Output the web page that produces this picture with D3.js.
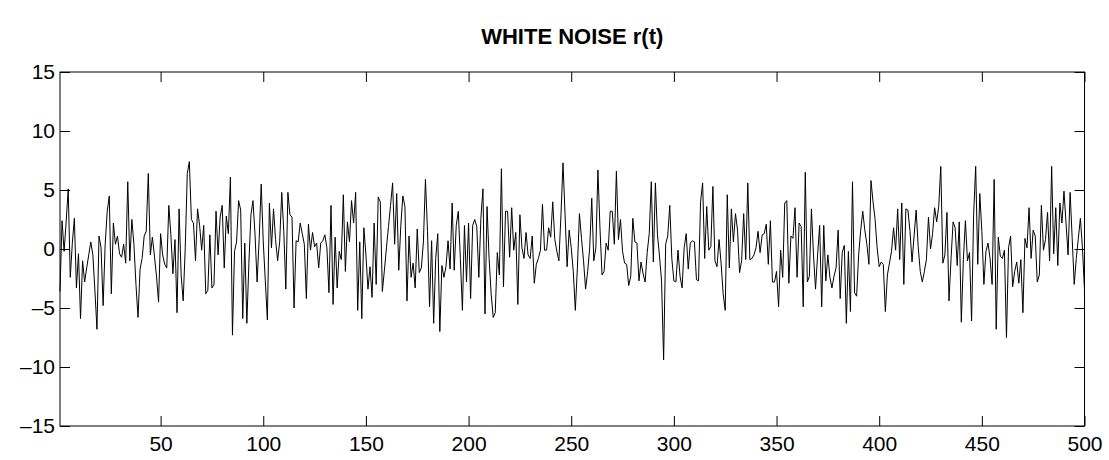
<!DOCTYPE html>
<html>
<head>
<meta charset="utf-8">
<script src="https://cdn.jsdelivr.net/npm/d3@7"></script>
<style>
  body { margin: 0; background: #fff; }
  svg { display: block; font-family: "Liberation Sans", Arial, Helvetica, sans-serif; }
</style>
</head>
<body>
<svg id="chart" width="1109" height="460"></svg>
<script>
// chart data (one value per sample, t = 1..500)
const chartTitle = "WHITE NOISE r(t)";
const xTicks = [50, 100, 150, 200, 250, 300, 350, 400, 450, 500];
const yTicks = [-15, -10, -5, 0, 5, 10, 15];
const noise = [
  -3.6, 2.4, -0.2, 2.3, 5.1, -2.4, 0.5,
  2.6, -3.3, -0.4, -5.9, -1.0, -2.8, -1.6, -0.5, 0.6, -0.5, -3.5, -6.8, 1.1, 0.1, -4.8, 0.4, 3.2, 4.5, -3.8, 2.2, 0.4, 1.1, -0.4, -0.7,
  0.4, -1.2, 5.7, -1.0, 2.5, 0.4, -3.0, -5.8, -1.7, -0.8, 1.1, 1.5, 6.4, -0.5, 1.0, -0.6, -2.3, -4.5, 1.3, -0.5, -1.3, -1.6, 3.7, 1.2,
  -2.1, 0.8, -5.4, 3.4, -2.2, -4.4, 0.1, 6.4, 7.4, 2.5, 2.2, -1.0, 3.4, 2.0, -0.1, 2.0, -3.8, -3.5, 1.2, -3.3, -3.0, 3.2, -0.5, 2.7, 3.7,
  -1.6, 2.8, 1.3, 6.1, -7.3, -0.2, 0.6, 4.1, 3.3, -5.9, 0.5, -6.3, -1.2, 2.9, 4.1, 1.2, -2.8, 0.8, 5.5, 0.6, -2.7, -6.0, 3.9, 0.1, 3.4,
  0.8, -1.0, 0.6, 4.8, 1.5, -3.4, 4.8, 2.9, 2.7, -5.0, 0.7, 0.6, 2.2, 1.3, 0.4, -4.2, 2.1, -0.1, 1.4, 0.2, 0.5, -1.6, 0.5, 0.7, 1.2,
  0.1, -3.7, 3.7, -4.7, 1.0, -3.3, -0.2, -0.9, 4.6, -1.9, 2.3, 0.6, 4.1, 2.2, 4.8, -5.2, 0.6, -5.9, 1.8, -0.5, -3.4, -1.5, -4.1, 2.2,
  -3.0, 4.4, 4.0, -3.6, -1.8, 0.1, 1.9, 3.7, 5.6, 0.4, 4.7, -1.8, 2.0, 4.5, 3.6, -4.4, 1.1, -2.4, -1.2, -3.3, 1.7, -2.0, -1.6, 0.6, 5.9,
  1.5, -4.9, 0.7, -6.3, -0.8, 1.3, -7.0, -1.4, -2.4, -1.5, 0.7, -1.7, 3.9, -1.8, 2.0, 3.2, -0.8, -5.2, 2.0, -2.8, 2.2, -4.2, 2.0, 2.5,
  1.9, -2.4, 2.6, 5.1, -5.5, 3.6, -0.8, -3.8, -5.8, -5.4, -0.3, -2.2, 6.8, -3.2, 3.2, 3.2, -0.7, 3.5, -0.1, 1.4, -4.7, 2.9, 0.1, -0.8, 1.4,
  -0.5, -0.8, 1.1, -2.9, -1.3, -0.8, -0.1, 3.8, -0.1, -0.1, 1.8, 1.0, 4.0, 0.8, -0.2, -1.0, 2.9, 7.3, 2.9, -1.5, 1.6, 0.1, -1.9, -5.2,
  -1.6, 3.0, 0.9, -1.0, -3.4, -1.9, 0.1, 4.3, -1.0, 0.1, 6.7, 1.8, -2.2, -1.9, 0.5, -0.1, 3.2, 3.2, 0.4, 6.6, 0.8, 2.5, -0.2, -1.2,
  -1.3, -3.1, -2.3, 2.6, 0.6, 0.5, -2.7, -1.1, -2.1, -2.8, -0.3, 1.3, 5.7, -1.1, 5.6, 1.2, -0.6, -2.7, -9.4, 0.4, 1.1, 3.7, -0.8, -2.7,
  -2.8, -0.1, -2.3, -3.3, 0.1, 1.3, -1.7, 0.5, 0.7, 0.6, -2.6, -2.7, 4.0, 5.6, -0.8, 3.6, -0.1, 0.2, 5.3, -1.0, -1.5, 0.8, -1.2, -3.8, -5.2,
  4.6, -1.6, 3.4, 0.6, 3.0, 1.6, -2.0, -1.0, 3.0, -0.9, 5.6, -0.9, -0.8, -0.5, 0.1, 1.5, -0.3, 1.2, 1.3, 2.1, -1.3, 2.4, -2.8, -2.8, -1.9,
  -4.9, -0.1, -2.4, 3.9, 4.1, -2.9, 1.1, 0.9, 3.5, -2.4, 2.2, 1.9, -4.9, 6.5, -2.8, -2.3, 3.4, -0.5, -3.4, -0.5, 2.0, -4.9, 2.0, -2.7, -0.5,
  -2.4, -3.3, -2.3, -1.6, 1.6, -4.2, -0.3, 0.3, -6.3, -0.2, -5.3, 5.7, -3.7, -4.0, -0.5, 1.6, 3.2, 1.6, 0.4, -1.3, 5.8, 4.0, 2.5, 0.1,
  -1.5, -1.1, -1.3, -5.3, -2.2, -1.2, -0.2, 1.8, -0.1, 3.4, -0.9, 3.9, -3.0, 3.4, 3.3, 1.5, -1.1, 1.1, 3.3, 0.2, -1.9, -2.8, -1.9, -0.9,
  2.7, 0.0, 1.3, 3.5, 2.3, 3.6, 7.0, -1.2, -0.5, 3.1, -4.4, -0.8, 2.3, 1.8, -1.4, 2.3, -6.2, -0.9, 2.4, -1.0, -0.3, -6.1, 2.9, 7.0,
  -1.3, 4.7, 1.5, -3.0, -0.2, 0.5, -0.8, -3.0, 5.9, -6.8, 1.0, -0.6, -0.8, -0.1, -7.5, 0.1, 1.1, -3.2, -1.9, -1.1, -2.9, -0.9, -5.4, 0.9, 0.1, 3.5,
  -0.8, 1.6, 1.1, -2.8, -2.2, 3.7, -0.1, 0.8, 3.1, -1.0, 7.0, -0.4, 3.5, -1.4, 3.9, 2.2, 4.9, 2.2, -0.5, 4.8, 0.9, -3.0, -0.8, 0.9, 2.6, 0.1, -3.5
];

const svg = d3.select("#chart");
const width = +svg.attr("width");
const height = +svg.attr("height");
const margin = { top: 72, right: 24.5, bottom: 34, left: 60 };
const innerW = width - margin.left - margin.right;
const innerH = height - margin.top - margin.bottom;
const tickLen = 10;

const x = d3.scaleLinear().domain([1, noise.length]).range([margin.left, margin.left + innerW]);
const y = d3.scaleLinear().domain([-15, 15]).range([margin.top + innerH, margin.top]);

// the noise trace
const line = d3.line()
  .x((d, i) => x(i + 1))
  .y(d => y(d));

svg.append("path")
  .datum(noise)
  .attr("fill", "none")
  .attr("stroke", "#000")
  .attr("stroke-width", 1)
  .attr("stroke-linejoin", "miter")
  .attr("d", line);

// axes, MATLAB style: box all round, ticks pointing inwards
const fmt = d => d < 0 ? "\u2013" + Math.abs(d) : String(d);

function styleAxis(g) {
  g.select(".domain").remove();
  g.selectAll(".tick line").attr("stroke", "#000").attr("stroke-width", 1);
  g.selectAll(".tick text").attr("fill", "#000").style("font-size", "21px");
}

svg.append("g")
  .attr("transform", `translate(0,${margin.top + innerH})`)
  .call(d3.axisBottom(x).tickValues(xTicks).tickSize(-tickLen).tickPadding(10).tickFormat(fmt))
  .call(styleAxis);

svg.append("g")
  .attr("transform", `translate(0,${margin.top})`)
  .call(d3.axisTop(x).tickValues(xTicks).tickSize(-tickLen).tickFormat(""))
  .call(styleAxis);

svg.append("g")
  .attr("transform", `translate(${margin.left},0)`)
  .call(d3.axisLeft(y).tickValues(yTicks).tickSize(-tickLen).tickPadding(5).tickFormat(fmt))
  .call(styleAxis);

svg.append("g")
  .attr("transform", `translate(${margin.left + innerW},0)`)
  .call(d3.axisRight(y).tickValues(yTicks).tickSize(-tickLen).tickFormat(""))
  .call(styleAxis);

svg.append("rect")
  .attr("x", margin.left)
  .attr("y", margin.top)
  .attr("width", innerW)
  .attr("height", innerH)
  .attr("fill", "none")
  .attr("stroke", "#000")
  .attr("stroke-width", 1);

svg.append("text")
  .attr("x", margin.left + innerW / 2)
  .attr("y", 44)
  .attr("text-anchor", "middle")
  .style("font-size", "22px")
  .style("font-weight", "bold")
  .text(chartTitle);
</script>
</body>
</html>
